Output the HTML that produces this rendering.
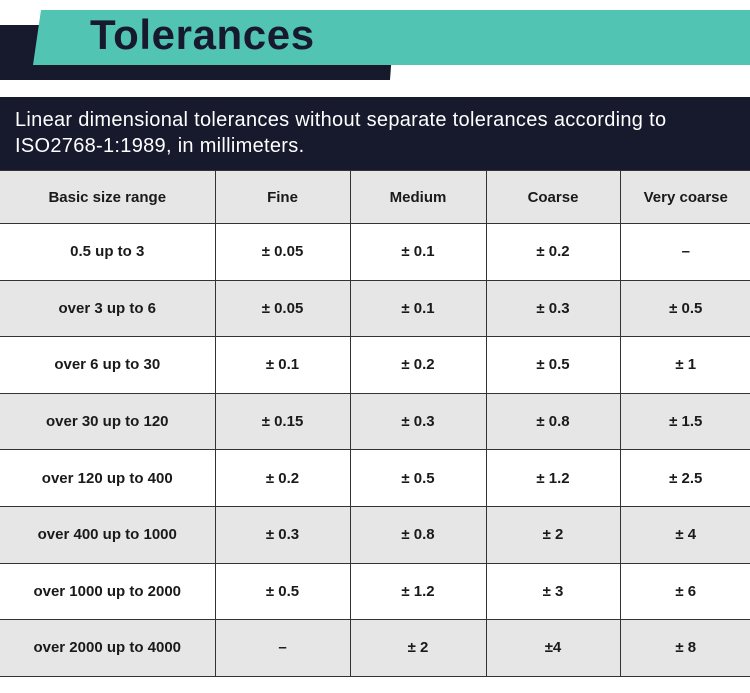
<!DOCTYPE html>
<html><head><meta charset="utf-8"><style>
body{margin:0;width:750px;height:693px;background:#fff;position:relative;overflow:hidden;font-family:"Liberation Sans",sans-serif}
.abs{position:absolute}
table{position:absolute;left:0;top:170px;border-collapse:collapse;width:752px}
td{border:1.5px solid #333;height:55.6px;text-align:center;font-size:15px;font-weight:bold;color:#1a1a1a;padding:0}
tr.h td{height:52px}
tr.g td{background:#e6e6e6}
td:first-child{border-left:none}
</style></head><body>
<svg class="abs" style="left:0;top:0" width="750" height="97">
<polygon points="0,25 394,25 390,80 0,80" fill="#161a2c"/>
<polygon points="41,10 750,10 750,65 33,65" fill="#52c4b4"/>
</svg>
<div class="abs" style="left:90px;top:11px;font-size:42px;font-weight:bold;color:#161a2c;letter-spacing:0.6px">Tolerances</div>
<div class="abs" style="left:0;top:97px;width:750px;height:73px;background:#161a2c"></div>
<div class="abs" style="left:15px;top:107px;font-size:20px;line-height:26px;color:#fff;letter-spacing:0.3px;white-space:nowrap">Linear dimensional tolerances without separate tolerances according to<br>ISO2768-1:1989, in millimeters.</div>
<table>
<colgroup><col style="width:215px"><col style="width:135px"><col style="width:136px"><col style="width:134px"><col></colgroup>
<tr class="g h"><td>Basic size range</td><td>Fine</td><td>Medium</td><td>Coarse</td><td>Very coarse</td></tr>
<tr><td>0.5 up to 3</td><td>± 0.05</td><td>± 0.1</td><td>± 0.2</td><td>–</td></tr>
<tr class="g"><td>over 3 up to 6</td><td>± 0.05</td><td>± 0.1</td><td>± 0.3</td><td>± 0.5</td></tr>
<tr><td>over 6 up to 30</td><td>± 0.1</td><td>± 0.2</td><td>± 0.5</td><td>± 1</td></tr>
<tr class="g"><td>over 30 up to 120</td><td>± 0.15</td><td>± 0.3</td><td>± 0.8</td><td>± 1.5</td></tr>
<tr><td>over 120 up to 400</td><td>± 0.2</td><td>± 0.5</td><td>± 1.2</td><td>± 2.5</td></tr>
<tr class="g"><td>over 400 up to 1000</td><td>± 0.3</td><td>± 0.8</td><td>± 2</td><td>± 4</td></tr>
<tr><td>over 1000 up to 2000</td><td>± 0.5</td><td>± 1.2</td><td>± 3</td><td>± 6</td></tr>
<tr class="g"><td>over 2000 up to 4000</td><td>–</td><td>± 2</td><td>±4</td><td>± 8</td></tr>
</table>
</body></html>
